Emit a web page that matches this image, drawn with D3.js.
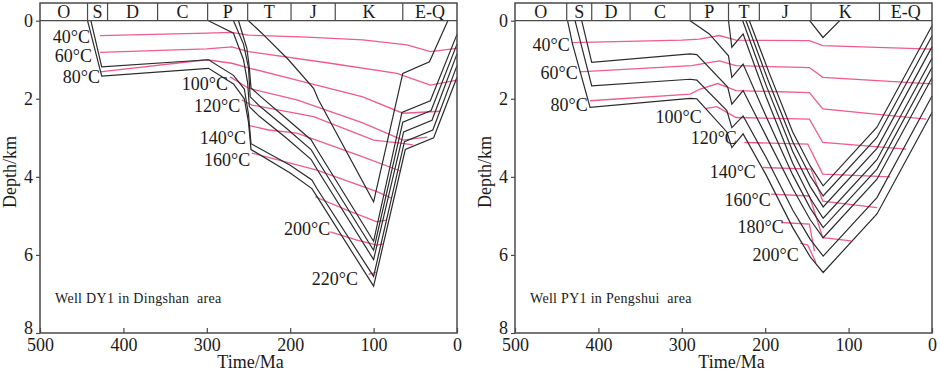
<!DOCTYPE html>
<html>
<head>
<meta charset="utf-8">
<script src="https://cdn.jsdelivr.net/npm/d3@7"></script>
<style>
body { margin: 0; background: #fff; }
text { font-family: "Liberation Serif", "Times New Roman", serif; fill: #1a1a1a; }
</style>
</head>
<body>
<svg id="chart" width="941" height="371"></svg>
<script>
// stratigraphy
const periods = ["O", "S", "D", "C", "P", "T", "J", "K", "E-Q"];
const dyBounds = [500, 443, 419, 359, 299, 251, 199, 146, 65, 0];
const pyBounds = [500, 438, 408, 362, 290, 244, 207, 145, 63, 0];
const timeTicks = [500, 400, 300, 200, 100, 0];
const depthTicks = [0, 2, 4, 6, 8];

// burial curves, [Ma, km]
const dyBurial = [
  [[443,0],[426,1.42],[298,1.22],[268,1.62],[255,2.0],[250,2.6],[247,3.3],[200,3.9],[174,4.3],[168,4.5],[100,6.8],[62,3.3],[28,3.0],[0,1.45]],
  [[439,0],[426,1.18],[298,1.0],[268,1.4],[255,1.75],[250,2.4],[247,3.15],[200,3.7],[174,4.08],[168,4.3],[100,6.55],[63,3.1],[29,2.8],[0,1.15]],
  [[298,0],[268,0.32],[256,1.0],[251,1.6],[249,2.2],[237,2.45],[205,3.0],[175,3.55],[168,3.8],[100,6.12],[64,2.85],[30,2.55],[0,0.85]],
  [[268,0],[256,0.6],[250,1.2],[248,1.95],[236,2.2],[205,2.75],[175,3.3],[168,3.55],[100,5.88],[65,2.6],[31,2.3],[0,0.6]],
  [[262,0],[252,0.7],[249,1.2],[247,1.72],[235,1.95],[205,2.5],[175,3.05],[168,3.3],[100,5.65],[66,2.35],[32,2.05],[0,0.35]],
  [[250,0],[234,0.32],[202,1.0],[172,1.73],[166,2.03],[100,4.64],[65,1.35],[33,1.05],[11,0]]
];
const pyBurial = [
  [[437,0],[431,0.6],[410,2.22],[290,1.99],[282,2.0],[246,2.85],[240,3.25],[226.5,2.9],[199,3.95],[167,5.3],[146,6.05],[130.5,6.45],[66,4.95],[0,2.35]],
  [[428,0],[408,1.67],[290,1.5],[282,1.52],[246,2.3],[240,2.74],[226.5,2.44],[199,3.5],[167,4.85],[146,5.6],[130.5,6.03],[66,4.53],[0,1.93]],
  [[420,0],[408,1.07],[290,0.85],[282,0.87],[245,1.7],[240,2.14],[226.5,1.79],[199,2.95],[167,4.3],[146,5.1],[130.5,5.56],[66,4.06],[0,1.46]],
  [[290,0],[267,0.34],[244,0.9],[240,1.45],[226.5,1.11],[199,2.45],[167,3.95],[146,4.8],[130.5,5.3],[66,3.8],[0,1.2]],
  [[244,0],[240,0.68],[226.5,0.34],[199,1.95],[167,3.65],[146,4.55],[130.5,5.06],[66,3.56],[0,0.96]],
  [[227,0],[199,1.65],[167,3.35],[146,4.25],[130.5,4.77],[66,3.27],[0,0.67]],
  [[223,0],[197,1.5],[167,3.1],[146,3.98],[130.5,4.49],[66,2.99],[0,0.39]],
  [[219,0],[195,1.35],[167,2.85],[146,3.72],[130.5,4.23],[66,2.73],[0,0.13]],
  [[146.7,0],[130.7,0.43],[110.6,0]]
];

// isotherms, [Ma, km]
const dyTemps = [40, 60, 80, 100, 120, 140, 160, 180, 200, 220];
const dyIso = [
  [[428,0.38],[300,0.32],[270,0.3],[250,0.37],[180,0.42],[113,0.49],[60,0.62],[32,0.79],[0,0.71]],
  [[428,0.81],[300,0.72],[270,0.67],[250,0.79],[152,1.09],[72,1.35],[32,1.65],[0,1.52]],
  [[428,1.31],[300,1.0],[270,1.09],[248,1.22],[192,1.52],[113,1.95],[65,2.37],[20,2.32]],
  [[272,1.44],[250,1.73],[192,2.03],[113,2.62],[65,3.06],[36,2.98]],
  [[258,2.03],[246,2.16],[172,2.46],[100,3.06],[65,3.14],[53,3.18]],
  [[250,2.68],[226,2.8],[192,2.88],[113,3.49],[68,3.85]],
  [[246,3.39],[200,3.65],[168,3.83],[96,4.38],[78,4.55]],
  [[170,4.51],[132,4.85],[96,5.15],[85,5.11]],
  [[152,5.41],[120,5.62],[96,5.75],[89,5.72]],
  [[106,6.5],[97,6.45]]
];
const pyTemps = [40, 60, 80, 100, 120, 140, 160, 180, 200];
const pyIso = [
  [[432,0.56],[300,0.5],[279,0.47],[255,0.38],[235,0.5],[147,0.51],[131,0.64],[0,0.73]],
  [[423,1.31],[288,1.15],[278,1.11],[255,1.03],[235,1.15],[147,1.2],[131,1.45],[0,1.62]],
  [[410,2.05],[290,1.88],[278,1.75],[257,1.61],[235,1.79],[147,1.84],[131,2.26],[7,2.52]],
  [[272,2.25],[258,2.2],[235,2.48],[147,2.52],[131,3.12],[31,3.29]],
  [[225,3.12],[149,3.16],[131,3.93],[50,4.0]],
  [[203,3.76],[145,3.8],[131,4.62],[66,4.79]],
  [[193,4.44],[147,4.49],[131,5.56],[97,5.64]],
  [[181,5.17],[147,5.21],[141,5.9]],
  [[158,5.7],[149,5.75],[139,6.2]]
];

// where each temperature label ends, [Ma, km]
const dyLabelAt = [[440,0.57],[437.6,1.06],[428,1.6],[274.6,1.78],[260,2.34],[253,3.15],[248,3.72],null,[152,5.5],[118.7,6.78]];
const pyLabelAt = [[434.4,0.77],[424.8,1.49],[412.8,2.31],[276,2.62],[234,3.15],[211.2,4.03],[193.3,4.74],[177.7,5.44],[159.7,6.15]];

const svg = d3.select("#chart");
const TOP = 20.7, BOTTOM = 333, BAR = 3;
const BLACK = "#2b2b2b", PINK = "#ef5a90", FRAME = "#4a4a4a";

const panels = [
  { x0: 40, x1: 457, bounds: dyBounds, burial: dyBurial, temps: dyTemps, iso: dyIso, labelAt: dyLabelAt,
    well: "Well DY1 in Dingshan  area", titleShift: 2 },
  { x0: 515, x1: 932, bounds: pyBounds, burial: pyBurial, temps: pyTemps, iso: pyIso, labelAt: pyLabelAt,
    well: "Well PY1 in Pengshui  area", titleShift: 8 }
];

panels.forEach(p => {
  const x = d3.scaleLinear().domain([500, 0]).range([p.x0, p.x1]);
  const y = d3.scaleLinear().domain([0, 8]).range([TOP, BOTTOM]);
  const g = svg.append("g");
  const line = d3.line().x(d => x(d[0])).y(d => y(d[1]));

  // isotherms
  g.append("g").selectAll("path")
    .data(p.iso)
    .join("path")
      .attr("d", line)
      .attr("fill", "none")
      .attr("stroke", PINK)
      .attr("stroke-width", 1.3);

  // burial curves
  g.append("g").selectAll("path")
    .data(p.burial)
    .join("path")
      .attr("d", line)
      .attr("fill", "none")
      .attr("stroke", BLACK)
      .attr("stroke-width", 1.2);

  // temperature labels
  g.append("g").selectAll("text")
    .data(p.temps.map((t, i) => ({ t, at: p.labelAt[i] })).filter(d => d.at))
    .join("text")
      .attr("x", d => x(d.at[0]))
      .attr("y", d => y(d.at[1]))
      .attr("text-anchor", "end")
      .attr("font-size", 18)
      .text(d => d.t + "°C");

  // stratigraphic bar
  const bar = g.append("g");
  bar.selectAll("line")
    .data(p.bounds.slice(1, -1))
    .join("line")
      .attr("x1", d => x(d)).attr("x2", d => x(d))
      .attr("y1", BAR).attr("y2", TOP)
      .attr("stroke", FRAME).attr("stroke-width", 1.2);
  bar.selectAll("text")
    .data(periods)
    .join("text")
      .attr("x", (d, i) => (x(p.bounds[i]) + x(p.bounds[i + 1])) / 2)
      .attr("y", TOP - 3)
      .attr("text-anchor", "middle")
      .attr("font-size", 18)
      .text(d => d);
  g.append("line")
    .attr("x1", p.x0).attr("x2", p.x1)
    .attr("y1", TOP).attr("y2", TOP)
    .attr("stroke", FRAME).attr("stroke-width", 1.2);

  // frame
  g.append("rect")
    .attr("x", p.x0).attr("y", BAR)
    .attr("width", p.x1 - p.x0).attr("height", BOTTOM - BAR)
    .attr("fill", "none").attr("stroke", FRAME).attr("stroke-width", 1.5);

  // axes
  const xAxis = g.append("g")
    .attr("transform", `translate(0,${BOTTOM})`)
    .call(d3.axisBottom(x).tickValues(timeTicks).tickSizeInner(-5).tickSizeOuter(0).tickPadding(5));
  const yAxis = g.append("g")
    .attr("transform", `translate(${p.x0},0)`)
    .call(d3.axisLeft(y).tickValues(depthTicks).tickSizeInner(4).tickSizeOuter(0).tickPadding(3));
  [xAxis, yAxis].forEach(a => {
    a.select(".domain").remove();
    a.selectAll("line").attr("stroke", FRAME).attr("stroke-width", 1.2);
    a.selectAll("text")
      .attr("font-family", "Liberation Serif, Times New Roman, serif")
      .attr("font-size", 18).attr("fill", "#1a1a1a");
  });
  // lift the bottom depth label a little off the time labels
  yAxis.selectAll(".tick").filter(d => d === 8).select("text").attr("dy", "0.05em");

  g.append("text")
    .attr("x", (p.x0 + p.x1) / 2 + p.titleShift)
    .attr("y", 368)
    .attr("text-anchor", "middle")
    .attr("font-size", 18)
    .text("Time/Ma");
  g.append("text")
    .attr("transform", `translate(${p.x0 - 24},172) rotate(-90)`)
    .attr("text-anchor", "middle")
    .attr("font-size", 18)
    .text("Depth/km");
  g.append("text")
    .attr("x", p.x0 + 15)
    .attr("y", 303)
    .attr("font-size", 14)
    .attr("letter-spacing", 0.3)
    .style("white-space", "pre")
    .text(p.well);
});
</script>
</body>
</html>
